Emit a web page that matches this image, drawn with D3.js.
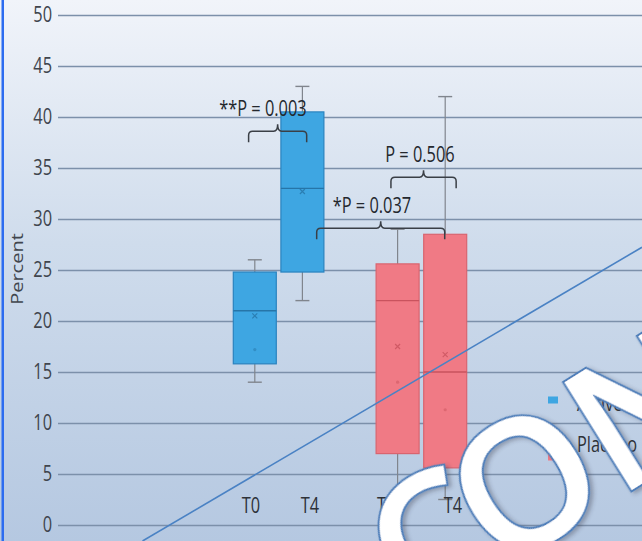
<!DOCTYPE html>
<html>
<head>
<meta charset="utf-8">
<script src="https://cdn.jsdelivr.net/npm/d3@7/dist/d3.min.js"></script>
<style>
  html, body { margin: 0; padding: 0; background: #ffffff; }
  svg { display: block; }
  text { font-family: "Open Sans", "DejaVu Sans", sans-serif; }
</style>
</head>
<body>
<svg id="chart" width="642" height="541"></svg>
<script>
// ---- data ----
const groups = ["Active", "Placebo"];
const times = ["T0", "T4"];
// one entry per box, in drawing order: Active T0, Active T4, Placebo T0, Placebo T4
const boxGroup = ["Active", "Active", "Placebo", "Placebo"];
const boxTime = ["T0", "T4", "T0", "T4"];
const boxSlot = [0, 1, 3, 4];
const labelSlot = [-0.08, 1.16, 2.76, 4.16];
const whiskerLow = [14.0, 22.0, 3.0, 2.5];
const quartile1 = [15.8, 24.8, 7.0, 5.6];
const median = [21.0, 33.0, 22.0, 15.0];
const quartile3 = [24.8, 40.5, 25.6, 28.5];
const whiskerHigh = [26.0, 43.0, 29.0, 42.0];
const mean = [20.5, 32.7, 17.5, 16.7];
const innerPoints = [[17.2], [], [14.0], [11.3]];

const yTicks = [0, 5, 10, 15, 20, 25, 30, 35, 40, 45, 50];

// significance brackets (ends and label position in slot units)
const bracketLabel = ["**P = 0.003", "*P = 0.037", "P = 0.506"];
const bracketFrom = [-0.13, 1.30, 2.86];
const bracketTo = [1.09, 3.99, 4.23];
const bracketLevel = [38.6, 29.1, 34.1];
const bracketLabelSlot = [0.17, 2.46, 3.47];
const bracketLabelValue = [40.1, 30.6, 35.6];

const colors = {
  Active: { fill: "#3ea6e2", stroke: "#2a83bf", mid: "#2675a8" },
  Placebo: { fill: "#f07a85", stroke: "#d9646f", mid: "#c9535e" }
};

// ---- layout ----
const W = 642, H = 541;
const SQ = 0.78; // horizontal text compression
const svg = d3.select("#chart");

const defs = svg.append("defs");
const bg = defs.append("linearGradient").attr("id", "bg")
  .attr("x1", 0).attr("y1", 0).attr("x2", 0).attr("y2", 1);
bg.append("stop").attr("offset", 0).attr("stop-color", "#f1f4fa");
bg.append("stop").attr("offset", 0.45).attr("stop-color", "#cfdcec");
bg.append("stop").attr("offset", 1).attr("stop-color", "#b5c8e1");

const shadow = defs.append("filter").attr("id", "wmShadow")
  .attr("x", "-20%").attr("y", "-20%").attr("width", "140%").attr("height", "140%");
shadow.append("feDropShadow").attr("dx", 2).attr("dy", 3).attr("stdDeviation", 2)
  .attr("flood-color", "#334").attr("flood-opacity", 0.35);

svg.append("rect").attr("width", W).attr("height", H).attr("fill", "url(#bg)");
svg.append("rect").attr("x", 1.5).attr("y", 0).attr("width", 2.5).attr("height", H)
  .attr("fill", "#2c6cf0");

const plotLeft = 58, plotRight = W;
const y = d3.scaleLinear().domain([0, 50]).range([525, 15]);

const slots = d3.range(5);
const x = d3.scaleBand().domain(slots).range([231, 469])
  .paddingInner(0.097).paddingOuter(0.0485);
const slotX = d3.scaleLinear().domain([0, 1])
  .range([x(0) + x.bandwidth() / 2, x(1) + x.bandwidth() / 2]);

// gridlines + tick labels
const yAxis = d3.axisLeft(y).tickValues(yTicks)
  .tickSizeInner(-(plotRight - plotLeft)).tickSizeOuter(0).tickPadding(6);
const gy = svg.append("g").attr("transform", `translate(${plotLeft},0)`).call(yAxis);
gy.select(".domain").remove();
gy.selectAll(".tick line").attr("stroke", "#7c90aa").attr("stroke-width", 1.6);
gy.selectAll(".tick text")
  .attr("x", -6 / SQ)
  .attr("transform", `scale(${SQ},1)`)
  .attr("fill", "#40454d")
  .style("font-size", "21px");

// axis title
svg.append("text")
  .attr("transform", `translate(18,269) scale(${SQ},1) rotate(-90)`)
  .attr("text-anchor", "middle").attr("dy", "0.35em")
  .attr("fill", "#40454d").style("font-size", "20px")
  .text("Percent");

// boxes
const boxes = boxSlot.map((s, i) => ({
  slot: s, label: labelSlot[i], group: boxGroup[i], time: boxTime[i],
  lo: whiskerLow[i], q1: quartile1[i], med: median[i], q3: quartile3[i],
  hi: whiskerHigh[i], mean: mean[i], pts: innerPoints[i]
}));

const gBox = svg.append("g");
const bw = x.bandwidth();
const capW = 14;
boxes.forEach(b => {
  const cx = x(b.slot) + bw / 2;
  const c = colors[b.group];
  const g = gBox.append("g");
  // whiskers
  g.append("line").attr("x1", cx).attr("x2", cx).attr("y1", y(b.hi)).attr("y2", y(b.lo))
    .attr("stroke", "#80858d").attr("stroke-width", 1.2);
  [b.hi, b.lo].forEach(v => {
    g.append("line").attr("x1", cx - capW / 2).attr("x2", cx + capW / 2)
      .attr("y1", y(v)).attr("y2", y(v))
      .attr("stroke", "#80858d").attr("stroke-width", 1.4);
  });
  // box
  g.append("rect").attr("x", x(b.slot)).attr("width", bw)
    .attr("y", y(b.q3)).attr("height", y(b.q1) - y(b.q3))
    .attr("fill", c.fill).attr("stroke", c.stroke).attr("stroke-width", 1.2);
  // median
  g.append("line").attr("x1", x(b.slot)).attr("x2", x(b.slot) + bw)
    .attr("y1", y(b.med)).attr("y2", y(b.med))
    .attr("stroke", c.mid).attr("stroke-width", 1.4);
  // mean marker
  const m = 2.5;
  g.append("path")
    .attr("d", `M${cx - m},${y(b.mean) - m}L${cx + m},${y(b.mean) + m}M${cx - m},${y(b.mean) + m}L${cx + m},${y(b.mean) - m}`)
    .attr("stroke", c.mid).attr("stroke-width", 1.2).attr("opacity", 0.8);
  b.pts.forEach(p => {
    g.append("circle").attr("cx", cx).attr("cy", y(p)).attr("r", 1.6)
      .attr("fill", c.mid).attr("opacity", 0.5);
  });
});

// category labels
svg.append("g").selectAll("text").data(boxes).join("text")
  .attr("transform", d => `translate(${slotX(d.label)},513) scale(${SQ},1)`)
  .attr("text-anchor", "middle").attr("fill", "#2e3238").style("font-size", "21px")
  .text(d => d.time);

// significance brackets
const gBr = svg.append("g");
bracketLabel.forEach((lab, i) => {
  const x1 = slotX(bracketFrom[i]), x2 = slotX(bracketTo[i]);
  const xm = (x1 + x2) / 2, yy = y(bracketLevel[i]);
  const drop = 11, rise = 7, r = 4;
  gBr.append("path")
    .attr("d", `M${x1},${yy + drop}L${x1},${yy + r}Q${x1},${yy} ${x1 + r},${yy}` +
      `L${xm - r},${yy}Q${xm},${yy} ${xm},${yy - rise}Q${xm},${yy} ${xm + r},${yy}` +
      `L${x2 - r},${yy}Q${x2},${yy} ${x2},${yy + r}L${x2},${yy + drop}`)
    .attr("fill", "none").attr("stroke", "#3a3f46").attr("stroke-width", 1.5);
  gBr.append("text")
    .attr("transform", `translate(${slotX(bracketLabelSlot[i])},${y(bracketLabelValue[i])}) scale(${SQ},1)`)
    .attr("text-anchor", "middle").attr("fill", "#24282e").style("font-size", "21px")
    .text(lab);
});

// legend
const legend = svg.append("g");
const legY = [400, 457], legTextY = [411, 452];
groups.forEach((gname, i) => {
  legend.append("rect").attr("x", 548).attr("y", legY[i] - 3.5).attr("width", 10).attr("height", 7)
    .attr("fill", colors[gname].fill);
  legend.append("text")
    .attr("transform", `translate(577,${legTextY[i]}) scale(${SQ},1)`)
    .attr("fill", "#2e3238").style("font-size", "21px").text(gname);
});

// overlay: diagonal rule and stamp
svg.append("line")
  .attr("x1", 0.222 * W).attr("y1", H).attr("x2", W).attr("y2", 0.457 * H)
  .attr("stroke", "#4a82c4").attr("stroke-width", 1.6);

svg.append("text")
  .attr("transform", "translate(403,633) rotate(-32)")
  .attr("dx", "16 -16")
  .attr("fill", "#ffffff").attr("stroke", "#4f7fba").attr("stroke-width", 4)
  .attr("paint-order", "stroke")
  .attr("filter", "url(#wmShadow)")
  .style("font-size", "178px").style("font-weight", 600)
  .text("CONFIDENTIAL");
</script>
</body>
</html>
